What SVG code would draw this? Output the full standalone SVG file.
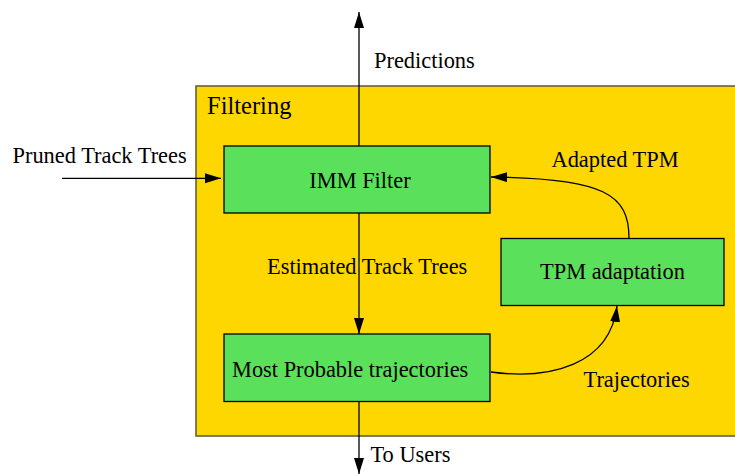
<svg xmlns="http://www.w3.org/2000/svg" width="735" height="474" viewBox="0 0 735 474">
<style>
text{font-family:'Liberation Serif','Times New Roman',Times,serif;font-size:22.4px;fill:#000}
.node{fill:#5ae05a;stroke:#000;stroke-width:1.3}
.edge{fill:none;stroke:#000;stroke-width:1.3}
</style>
<defs>
<marker id="ah" markerUnits="userSpaceOnUse" markerWidth="17" markerHeight="11" refX="16" refY="5" orient="auto">
<path d="M0,0 L16,5 L0,10 z" fill="#000"/>
</marker>
</defs>
<rect width="735" height="474" fill="#fff"/>
<g font-family="Liberation Serif, Times New Roman, serif">
<g id="filtering">
<rect x="196" y="86" width="545" height="350" fill="#ffd700" stroke="#66603a" stroke-width="1.6"/>
<text x="207" y="114" style="font-size:24.5px">Filtering</text>
</g>
<g id="imm">
<rect class="node" x="224" y="146" width="266" height="67"/>
<text x="360" y="188" text-anchor="middle">IMM Filter</text>
</g>
<g id="mpt">
<rect class="node" x="224" y="334" width="266" height="67.5"/>
<text x="232" y="377">Most Probable trajectories</text>
</g>
<g id="tpm">
<rect class="node" x="501" y="238.5" width="223" height="67"/>
<text x="540" y="278.5">TPM adaptation</text>
</g>
<g id="connectors">
<path class="edge" d="M359,146 L359,12" marker-end="url(#ah)"/>
<path class="edge" d="M62,178.3 L221,178.3" marker-end="url(#ah)"/>
<path class="edge" d="M359,213 L359,334" marker-end="url(#ah)"/>
<path class="edge" d="M359,401.5 L359,474" marker-end="url(#ah)"/>
<path class="edge" d="M629,238 C629,195 605,178 491,177" marker-end="url(#ah)"/>
<path class="edge" d="M491,372 C550,380 610,365 617,306" marker-end="url(#ah)"/>
<text x="374" y="68">Predictions</text>
<text x="12.5" y="163">Pruned Track Trees</text>
<text x="551.5" y="167">Adapted TPM</text>
<text x="267" y="273.5">Estimated Track Trees</text>
<text x="583.5" y="386.5">Trajectories</text>
<text x="370.5" y="462">To Users</text>
</g>
</g>
</svg>
